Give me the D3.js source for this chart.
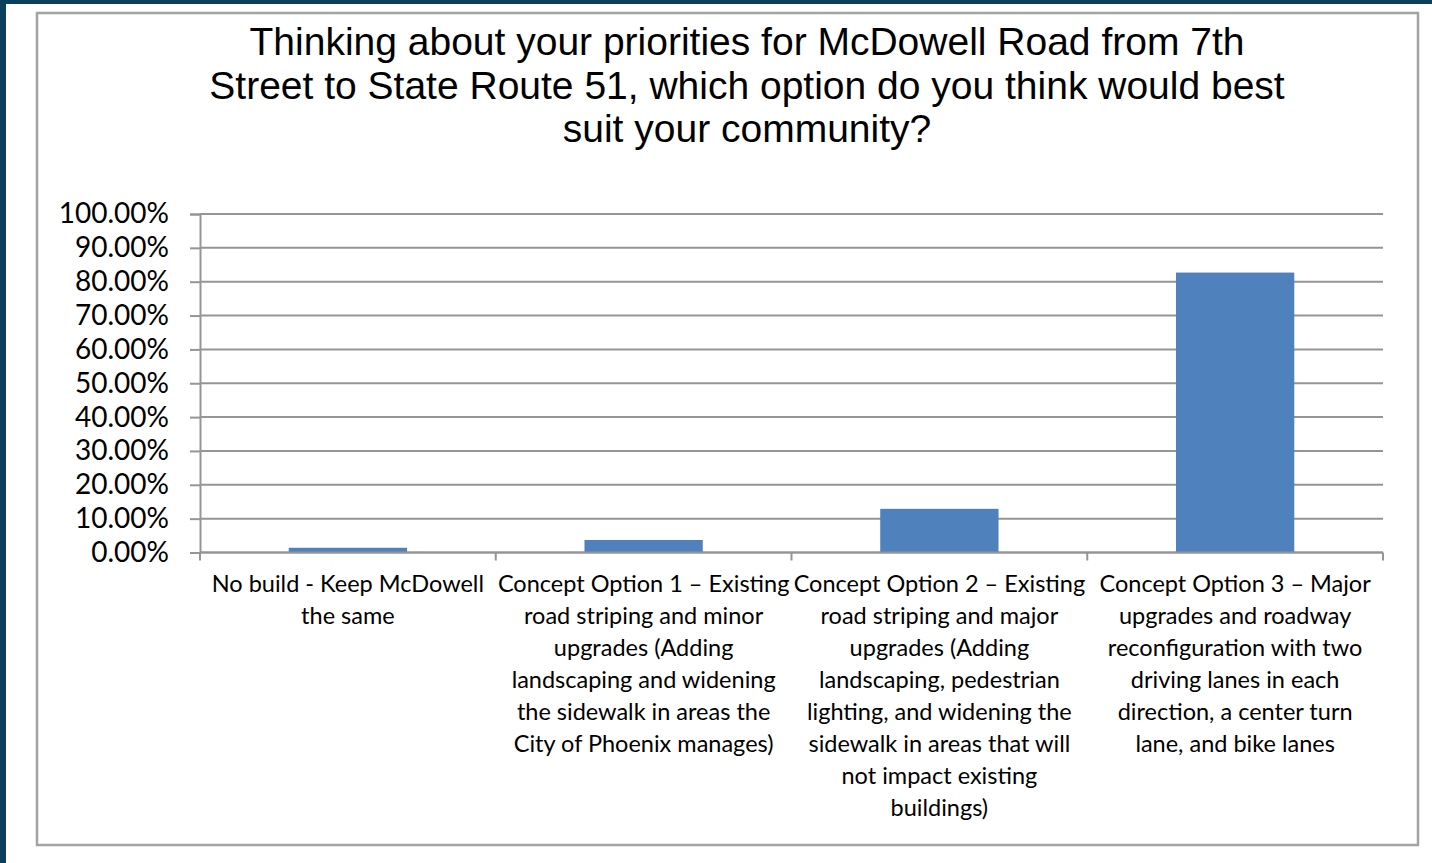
<!DOCTYPE html>
<html>
<head>
<meta charset="utf-8">
<script src="https://cdn.jsdelivr.net/npm/d3@7"></script>
<style>
    body { margin: 0; background: #ffffff; }
    svg { display: block; }
</style>
</head>
<body>
<script>
// survey answers
const categories = ["No build", "Option 1", "Option 2", "Option 3"];
const shares = [0.014, 0.037, 0.129, 0.827];
const categoryLines = [
    ["No build - Keep McDowell", "the same"],
    ["Concept Option 1 \u2013 Existing", "road striping and minor", "upgrades (Adding",
        "landscaping and widening", "the sidewalk in areas the", "City of Phoenix manages)"],
    ["Concept Option 2 \u2013 Existing", "road striping and major", "upgrades (Adding",
        "landscaping, pedestrian", "lighting, and widening the", "sidewalk in areas that will",
        "not impact existing", "buildings)"],
    ["Concept Option 3 \u2013 Major", "upgrades and roadway", "reconfiguration with two",
        "driving lanes in each", "direction, a center turn", "lane, and bike lanes"]
];
const yTicks = [0, 0.1, 0.2, 0.3, 0.4, 0.5, 0.6, 0.7, 0.8, 0.9, 1.0];
const titleLines = [
    "Thinking about your priorities for McDowell Road from 7th",
    "Street to State Route 51, which option do you think would best",
    "suit your community?"
];

window.onload = function () {
    const width = 1432, height = 863;
    const plot = {left: 200, right: 1383, top: 214, bottom: 552.5};

    const svg = d3.select("body").append("svg")
        .attr("width", width)
        .attr("height", height);

    //dark frame of the slide
    svg.append("rect").attr("x", 0).attr("y", 0).attr("width", width).attr("height", 4)
        .attr("fill", "#0b3f5c");
    svg.append("rect").attr("x", 0).attr("y", 0).attr("width", 6).attr("height", height)
        .attr("fill", "#0b3f5c");

    //chart border
    svg.append("rect")
        .attr("x", 37).attr("y", 13)
        .attr("width", 1381).attr("height", 832)
        .attr("fill", "#ffffff")
        .attr("stroke", "#a3a3a3")
        .attr("stroke-width", 2.5);

    //title
    svg.append("text")
        .attr("text-anchor", "middle")
        .style("font-family", "'Liberation Sans', Arial, sans-serif")
        .style("font-size", "39px")
        .attr("fill", "#000")
        .selectAll("tspan")
        .data(titleLines)
        .join("tspan")
        .attr("x", 747)
        .attr("y", (d, i) => 55 + i * 43.5)
        .text(d => d);

    const x = d3.scaleBand()
        .domain(categories)
        .range([plot.left, plot.right])
        .paddingInner(0.6)
        .paddingOuter(0.3);

    const y = d3.scaleLinear()
        .domain([0, 1])
        .range([plot.bottom, plot.top]);

    //gridlines
    svg.append("g")
        .selectAll("line")
        .data(yTicks)
        .join("line")
        .attr("x1", plot.left)
        .attr("x2", plot.right)
        .attr("y1", d => y(d))
        .attr("y2", d => y(d))
        .attr("stroke", "#959595")
        .attr("stroke-width", 2);

    //y axis
    const yAxis = svg.append("g")
        .attr("transform", `translate(${plot.left},0)`)
        .call(d3.axisLeft(y)
            .tickValues(yTicks)
            .tickFormat(d3.format(".2%"))
            .tickSize(10)
            .tickPadding(21));
    yAxis.select(".domain").attr("stroke", "#959595").attr("stroke-width", 2);
    yAxis.selectAll(".tick line").attr("stroke", "#959595").attr("stroke-width", 2);
    yAxis.selectAll(".tick text")
        .style("font-family", "Lato, 'Open Sans', sans-serif")
        .style("font-size", "28px")
        .attr("fill", "#000");

    //bars
    svg.append("g")
        .selectAll("rect")
        .data(shares)
        .join("rect")
        .attr("x", (d, i) => x(categories[i]))
        .attr("y", d => y(d))
        .attr("width", x.bandwidth())
        .attr("height", d => y(0) - y(d))
        .attr("fill", "#4f81bd");

    //x axis line and category boundary ticks
    const step = x.step();
    const bounds = d3.range(categories.length + 1).map(i => plot.left + i * step);
    svg.append("line")
        .attr("x1", plot.left).attr("x2", plot.right)
        .attr("y1", y(0)).attr("y2", y(0))
        .attr("stroke", "#959595").attr("stroke-width", 2);
    svg.append("g")
        .selectAll("line")
        .data(bounds)
        .join("line")
        .attr("x1", d => d).attr("x2", d => d)
        .attr("y1", y(0)).attr("y2", y(0) + 8)
        .attr("stroke", "#959595").attr("stroke-width", 2);

    //category labels
    svg.append("g")
        .selectAll("text")
        .data(categories)
        .join("text")
        .attr("text-anchor", "middle")
        .style("font-family", "Lato, 'Open Sans', sans-serif")
        .style("font-size", "23.5px")
        .attr("fill", "#000")
        .each(function (c, i) {
            d3.select(this).selectAll("tspan")
                .data(categoryLines[i])
                .join("tspan")
                .attr("x", x(c) + x.bandwidth() / 2)
                .attr("y", (d, j) => 592 + j * 32)
                .text(d => d);
        });
}
</script>
</body>
</html>
